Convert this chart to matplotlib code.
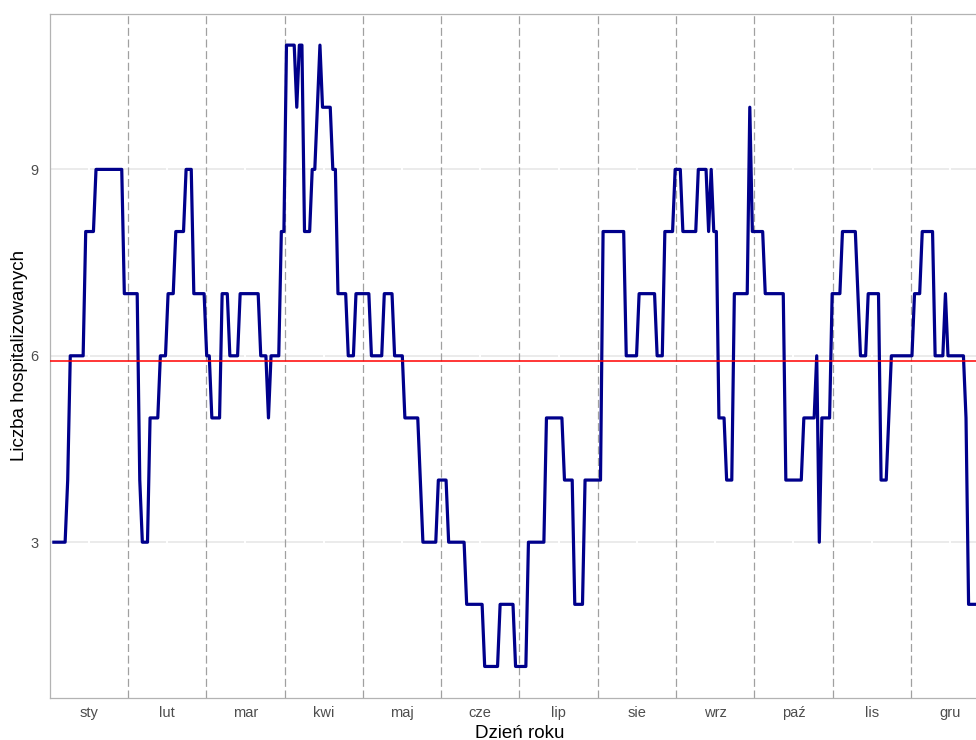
import numpy as np
import matplotlib.pyplot as plt

plt.rcParams['font.family'] = ['Liberation Sans', 'DejaVu Sans']

# dzienne liczby hospitalizowanych zapisane jako serie (poziom, liczba dni)
poziomy = [3, 4, 6, 8, 9, 7, 4, 3, 5, 6, 7, 8, 9, 7, 6, 5, 7, 6, 7, 6,
           5, 6, 8, 11, 10, 11, 8, 9, 10, 11, 10, 9, 7, 6, 7, 6, 7, 6, 5, 4,
           3, 4, 3, 2, 1, 2, 1, 3, 5, 4, 2, 4, 8, 6, 7, 6, 8, 9, 8, 9,
           8, 9, 8, 5, 4, 7, 10, 8, 7, 4, 5, 6, 3, 5, 7, 8, 7, 6, 7, 4,
           5, 6, 7, 8, 6, 7, 6, 5, 2]
dlugosci = [6, 1, 6, 4, 11, 6, 1, 3, 4, 3, 3, 4, 3, 5, 2, 4, 3, 4, 8, 3,
            1, 4, 2, 4, 1, 2, 3, 2, 1, 1, 4, 2, 4, 3, 6, 5, 4, 4, 6, 1,
            6, 4, 7, 7, 6, 6, 5, 7, 7, 4, 4, 7, 9, 5, 7, 3, 4, 3, 6, 4,
            1, 1, 2, 3, 3, 6, 1, 5, 8, 7, 5, 1, 1, 4, 4, 6, 1, 3, 5, 3,
            1, 9, 3, 5, 4, 1, 7, 1, 9]
miesiace = ['sty', 'lut', 'mar', 'kwi', 'maj', 'cze',
            'lip', 'sie', 'wrz', 'paź', 'lis', 'gru']

liczba = np.repeat(poziomy, dlugosci)
dni = np.arange(1, len(liczba) + 1)
srednia = liczba.mean()

dl_mies = 365 / 12
granice = [k * dl_mies for k in range(1, 12)]
srodki = [(k + 0.5) * dl_mies for k in range(12)]

fig = plt.figure(figsize=(9.76, 7.4), dpi=100)
ax = fig.add_axes([0.0509, 0.0574, 0.9626, 0.9236])

ax.set_axisbelow(True)
ax.grid(axis='y', color='#e5e5e5', lw=1.1)
ax.grid(axis='x', visible=False)
# przerwy w siatce w miejscach etykiet miesięcy
ax.vlines(srodki, 0.5, 11.5, color='white', lw=1.4, zorder=0.7)

for g in granice:
    ax.axvline(g, color='#a0a0a0', lw=0.9, ls=(0, (6.4, 2.9)), zorder=1)

ax.plot(dni, liczba, color='#00008B', lw=2.3, solid_joinstyle='round',
        solid_capstyle='butt', zorder=3)
ax.axhline(srednia, color='red', lw=1.1, zorder=4)

ax.set_xlim(0, 365)
ax.set_ylim(0.5, 11.5)
ax.set_xticks(srodki)
ax.set_xticklabels(miesiace)
ax.set_yticks([3, 6, 9])
ax.tick_params(length=0, labelsize=10.5, labelcolor='#4d4d4d')
ax.tick_params(axis='x', pad=6)
ax.tick_params(axis='y', pad=8)

for s in ['left', 'top', 'bottom']:
    ax.spines[s].set_color('#b3b3b3')
    ax.spines[s].set_linewidth(0.9)
ax.spines['right'].set_visible(False)

ax.set_xlabel('Dzień roku', fontsize=13.5, labelpad=3.5)
ax.set_ylabel('Liczba hospitalizowanych', fontsize=13.5, labelpad=1.5)

fig.savefig('out.png', dpi=100)
